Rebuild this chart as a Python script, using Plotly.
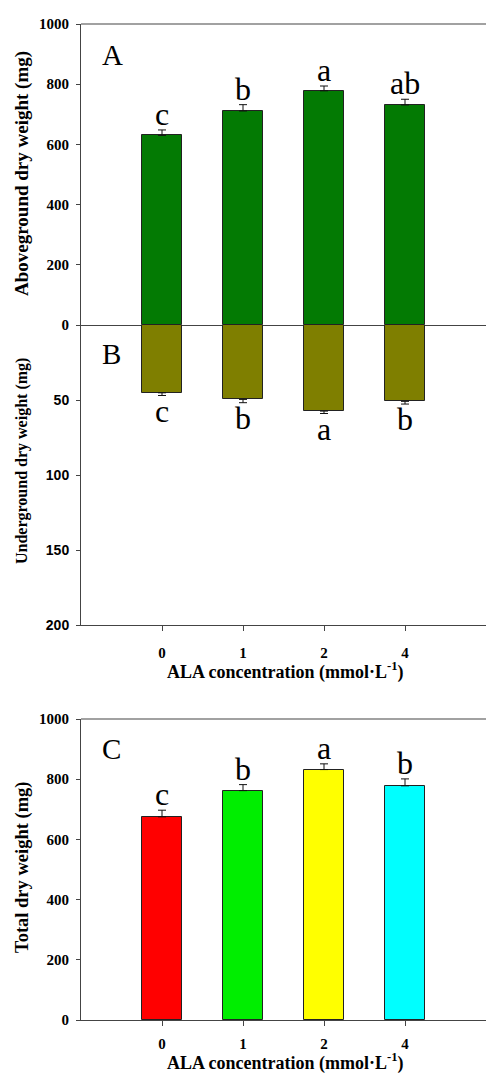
import plotly.graph_objects as go

# ALA concentration groups (mmol·L-1)
concentrations = ["0", "1", "2", "4"]
positions = [0, 1, 2, 3]

# Aboveground dry weight (mg), mean and SE
above_mean = [630, 711, 778, 731]
above_err = [18, 21, 16, 19]
above_letters = ["c", "b", "a", "ab"]

# Underground dry weight (mg), mean and SE
under_mean = [45.2, 49.6, 57.4, 50.9]
under_err = [1.8, 2.2, 1.6, 1.8]
under_letters = ["c", "b", "a", "b"]

# Total dry weight (mg), mean and SE
total_mean = [675, 762, 832, 778]
total_err = [22, 20, 19, 23]
total_letters = ["c", "b", "a", "b"]
total_colors = ["#ff0000", "#00ee00", "#ffff00", "#00ffff"]

# tick values
ticks_top = [0, 200, 400, 600, 800, 1000]
ticks_under = [50, 100, 150, 200]

W, H = 486, 1073
ML, MR, MT, MB = 81, 0, 24, 53
PW, PH = W - ML - MR, H - MT - MB


def py(px):
    """pixel row -> paper y"""
    return (H - MB - px) / PH


def pxx(px):
    """pixel column -> paper x"""
    return (px - ML) / PW


def bold(v):
    return f"<b>{v}</b>"


SERIF = "Liberation Serif"
SANS = "Liberation Sans"
EDGE = "#222222"
AX = "#444444"

fig = go.Figure()

fig.add_trace(go.Bar(
    x=positions, y=above_mean, width=0.5, xaxis="x", yaxis="y",
    marker=dict(color="#037a03", line=dict(color=EDGE, width=1)),
    error_y=dict(type="data", array=above_err, arrayminus=[0] * 4, symmetric=False,
                 color="#111111", thickness=1, width=4),
    showlegend=False,
))
fig.add_trace(go.Bar(
    x=positions, y=under_mean, width=0.5, xaxis="x2", yaxis="y2",
    marker=dict(color="#7f7f00", line=dict(color=EDGE, width=1)),
    error_y=dict(type="data", array=under_err, arrayminus=[0] * 4, symmetric=False,
                 color="#111111", thickness=1, width=4),
    showlegend=False,
))
fig.add_trace(go.Bar(
    x=positions, y=total_mean, width=0.5, xaxis="x3", yaxis="y3",
    marker=dict(color=total_colors, line=dict(color=EDGE, width=1)),
    error_y=dict(type="data", array=total_err, arrayminus=[0] * 4, symmetric=False,
                 color="#111111", thickness=1, width=4),
    showlegend=False,
))

tick_serif = dict(family=SERIF, size=15, color="black")
tick_sans = dict(family=SANS, size=14, color="black")

yA = (py(325), 1.0)
yB = (py(625), py(325))
yC = (0.0, py(719))

common_x = dict(range=[-1, 4], tickvals=positions, ticktext=[bold(c) for c in concentrations],
                showgrid=False, zeroline=False, showline=True, linecolor=AX, linewidth=1)
common_y = dict(showgrid=False, zeroline=False, showline=True, linecolor=AX, linewidth=1,
                ticks="outside", ticklen=4, tickcolor=AX, ticklabelstandoff=4)

fig.update_layout(
    width=W, height=H,
    margin=dict(l=ML, r=MR, t=MT, b=MB),
    paper_bgcolor="white", plot_bgcolor="white",
    bargap=0,
    xaxis=dict(**common_x, anchor="y", showticklabels=False, ticks=""),
    xaxis2=dict(**common_x, anchor="y2", ticks="outside", ticklen=5, tickcolor=AX,
                tickfont=tick_serif, ticklabelstandoff=9),
    xaxis3=dict(**common_x, anchor="y3", ticks="outside", ticklen=5, tickcolor=AX,
                tickfont=tick_serif, ticklabelstandoff=5),
    yaxis=dict(**common_y, domain=list(yA), anchor="x", range=[0, 1000],
               tickvals=ticks_top, ticktext=[bold(v) for v in ticks_top], tickfont=tick_serif),
    yaxis2=dict(**common_y, domain=list(yB), anchor="x2", range=[200, 0],
                tickvals=ticks_under, ticktext=[bold(v) for v in ticks_under], tickfont=tick_sans),
    yaxis3=dict(**common_y, domain=list(yC), anchor="x3", range=[0, 1000],
                tickvals=ticks_top, ticktext=[bold(v) for v in ticks_top], tickfont=tick_serif),
)

# top frame lines of the upper and lower panels
for ytop in (1.0, py(719)):
    fig.add_shape(type="line", xref="paper", yref="paper", x0=0, x1=1, y0=ytop, y1=ytop,
                  line=dict(color=AX, width=1.2))

ann = []

# y-axis titles
for text, ypx, size in [("Aboveground dry weight (mg)", 174, 19),
                        ("Underground dry weight (mg)", 461, 16),
                        ("Total dry weight (mg)", 868, 18.5)]:
    ann.append(dict(text=bold(text), xref="paper", yref="paper", x=pxx(22), y=py(ypx),
                    xanchor="center", yanchor="middle", textangle=-90, showarrow=False,
                    font=dict(family=SERIF, size=size, color="black")))

# x-axis titles
xt = bold("ALA concentration (mmol·L<sup>-1</sup>)")
for ypx in (671, 1062):
    ann.append(dict(text=xt, xref="paper", yref="paper", x=pxx(285), y=py(ypx),
                    xanchor="center", yanchor="middle", showarrow=False,
                    font=dict(family=SERIF, size=18, color="black")))

# panel letters
for text, ypx in [("A", 55), ("B", 354), ("C", 749)]:
    ann.append(dict(text=text, xref="paper", yref="paper", x=pxx(100), y=py(ypx),
                    xanchor="left", yanchor="middle", showarrow=False,
                    font=dict(family=SERIF, size=29, color="black")))

letter_font = dict(family=SERIF, size=32, color="black")

# significance letters
for i in range(4):
    ann.append(dict(text=above_letters[i], xref="x", yref="y", x=positions[i],
                    y=above_mean[i] + above_err[i], xanchor="center", yanchor="bottom",
                    yshift=-4, showarrow=False, font=letter_font))
    ann.append(dict(text=under_letters[i], xref="x2", yref="y2", x=positions[i],
                    y=under_mean[i] + under_err[i], xanchor="center", yanchor="top",
                    yshift=5, showarrow=False, font=letter_font))
    ann.append(dict(text=total_letters[i], xref="x3", yref="y3", x=positions[i],
                    y=total_mean[i] + total_err[i], xanchor="center", yanchor="bottom",
                    yshift=-4, showarrow=False, font=letter_font))

fig.update_layout(annotations=ann)

fig.write_html("out.html")
